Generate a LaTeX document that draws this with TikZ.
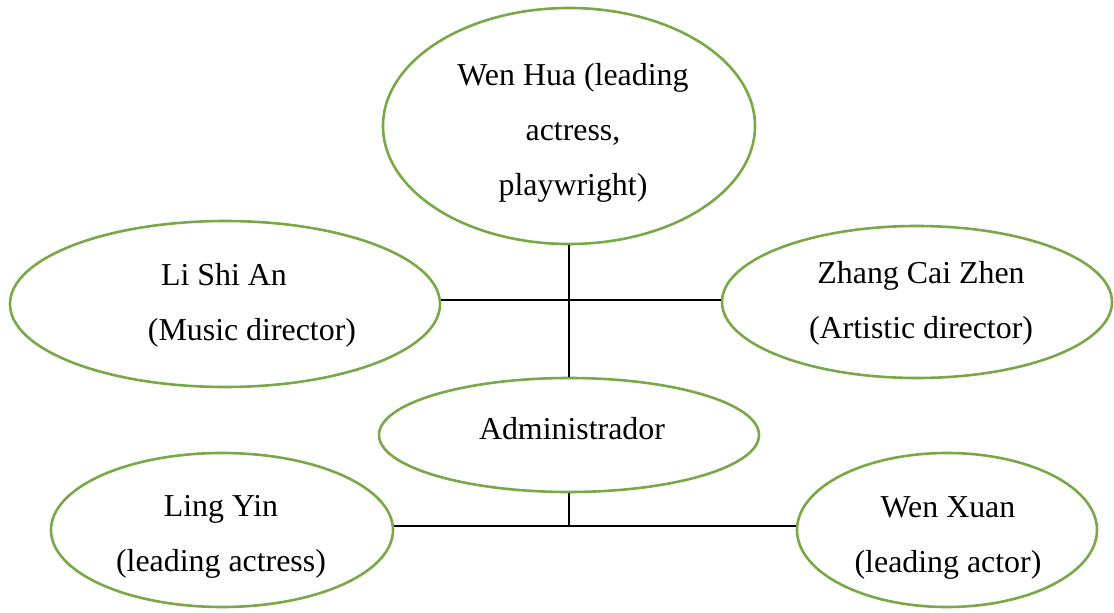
\documentclass[tikz,border=0pt]{standalone}
\usepackage{fontspec}
\setmainfont{Liberation Serif}
\usetikzlibrary{shapes.geometric}
\definecolor{ringgreen}{RGB}{120,168,72}
\begin{document}
\begin{tikzpicture}[x=1bp,y=-1bp,
  person/.style={ellipse, draw=ringgreen, line width=2.6bp, fill=white, inner sep=0pt},
  caption/.style={align=center, inner sep=0pt, font=\fontsize{32}{55}\selectfont},
  link/.style={draw=black, line width=1.4bp}]
  \useasboundingbox[fill=white] (0,0) rectangle (1114,613);

  % ellipses
  \node[person, minimum width=372bp, minimum height=236bp] (wenhua)  at (569,126) {};
  \node[person, minimum width=430bp, minimum height=166bp] (lishian) at (225,304) {};
  \node[person, minimum width=390bp, minimum height=152bp] (zhang)   at (917,302) {};
  \node[person, minimum width=380bp, minimum height=114bp] (admin)   at (569,435) {};
  \node[person, minimum width=342bp, minimum height=154bp] (lingyin) at (222,530) {};
  \node[person, minimum width=300bp, minimum height=154bp] (wenxuan) at (947,530) {};

  % junction points of the connectors
  \coordinate (hubtop) at (569,300);
  \coordinate (hubbot) at (569,526);

  % connectors
  \draw[link] (wenhua.south) -- (admin.north);
  \draw[link] (lishian.east |- hubtop) -- (zhang.west |- hubtop);
  \draw[link] (admin.south) -- (hubbot);
  \draw[link] (lingyin.east |- hubbot) -- (wenxuan.west |- hubbot);

  % texts
  \node[caption] (wenhua-t)  at (573,133) {Wen Hua (leading\\actress,\\playwright)};
  \node[caption] (lishian-t) at (224,305) {Li Shi An\\\hspace*{56bp}(Music director)};
  \node[caption] (zhang-t)   at (921,303) {Zhang Cai Zhen\\(Artistic director)};
  \node[caption] (admin-t)   at (572,429) {Administrador};
  \node[caption] (lingyin-t) at (221,537) {Ling Yin\\(leading actress)};
  \node[caption] (wenxuan-t) at (948,538) {Wen Xuan\\(leading actor)};
\end{tikzpicture}
\end{document}
